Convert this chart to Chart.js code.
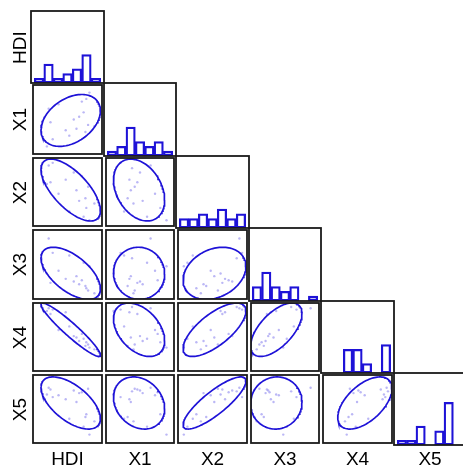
<!DOCTYPE html>
<html>
<head>
<meta charset="utf-8">
<script src="https://cdn.jsdelivr.net/npm/chart.js@4.4.1/dist/chart.umd.min.js"></script>
<style>
  html, body { margin: 0; padding: 0; background: #fff; }
  body { width: 463px; height: 465px; overflow: hidden; font-family: "Liberation Sans", Arial, sans-serif; }
  #matrix { position: relative; width: 463px; height: 465px; overflow: hidden; }
  #matrix canvas { position: absolute; }
  .row-label, .col-label {
    position: absolute; width: 72px; height: 19px; line-height: 19px;
    font-size: 19px; color: #000; text-align: center; white-space: nowrap;
  }
  .row-label { transform: rotate(-90deg); }
</style>
</head>
<body>
<div id="matrix"></div>
<script>
// Variable names (row / column labels)
const varNames = ['HDI', 'X1', 'X2', 'X3', 'X4', 'X5'];

// Observations (18 cases), one array per variable
const hdiValues = [0.36, 0.42, 0.44, 0.46, 0.485, 0.55, 0.63, 0.67, 0.72, 0.75, 0.78, 0.81, 0.83, 0.85, 0.86, 0.88, 0.895, 0.95];
const x1Values = [23, 12.5, 33.5, 26, 16.5, 36, 21.5, 18.5, 27.5, 22.3, 29, 37.5, 31.5, 20.5, 39, 24.5, 42.5, 23.8];
const x2Values = [62, 44, 65, 46, 68, 33, 49, 13, 57, 37, 25, 53, 7, 28, 17, 41, 3, 22];
const x3Values = [16.8, 10, 25.6, 5.8, 19.2, 11.2, 7.6, 18, 6.4, 8.8, 5.2, 7, 14.8, 4.4, 3.4, 2.4, 13.2, 1.2];
const x4Values = [69, 64.5, 67.5, 61, 66, 43, 63, 47, 36, 34.5, 30.5, 38.5, 33, 25, 29, 26.5, 23, 21];
const x5Values = [85, 81.5, 89, 87, 78.5, 80.5, 76, 54, 86, 73, 83, 84, 45, 56, 59, 88, 36, 51];

// Histogram bins per variable (7 bins each)
const binStarts = [0.3, 10, 0, 0, 0, 30];
const binWidths = [0.1, 5, 10, 4, 10, 10];
const binCount = 7;

const allValues = [hdiValues, x1Values, x2Values, x3Values, x4Values, x5Values];

// Layout of the grid
const gridLeft = 31;
const gridTop = 11;
const cellW = 72.5;
const cellH = 72.4;
const pad = 2;
const ellipseScale = 1.75;
const histMax = 15.2;

const lineBlue = 'rgb(30, 18, 215)';
const dotBlue = 'rgba(150, 145, 240, 0.65)';

// Cell border drawn around the plot area
const cellFrame = {
  id: 'cellFrame',
  afterDraw(chart) {
    const { ctx, chartArea: a } = chart;
    ctx.save();
    ctx.strokeStyle = '#1a1a1a';
    ctx.lineWidth = 1.8;
    ctx.strokeRect(a.left, a.top, a.right - a.left, a.bottom - a.top);
    ctx.restore();
  }
};

function mean(arr) {
  return arr.reduce((s, v) => s + v, 0) / arr.length;
}

function stdDev(arr, m) {
  const ss = arr.reduce((s, v) => s + (v - m) * (v - m), 0);
  return Math.sqrt(ss / (arr.length - 1));
}

// Axis range: bin range plus 5% on each side
function axisRange(v) {
  const span = binWidths[v] * binCount;
  return { min: binStarts[v] - span * 0.05, max: binStarts[v] + span * 1.05 };
}

// Counts per bin
function histogram(v) {
  const counts = Array(binCount).fill(0);
  allValues[v].forEach(val => {
    let idx = Math.floor((val - binStarts[v]) / binWidths[v] + 1e-9);
    idx = Math.max(0, Math.min(binCount - 1, idx));
    counts[idx]++;
  });
  return counts.map((c, k) => ({ x: binStarts[v] + binWidths[v] * (k + 0.5), y: c }));
}

// Ellipse from the mean and covariance of two variables
function ellipsePoints(xs, ys) {
  const mx = mean(xs);
  const my = mean(ys);
  const sx = stdDev(xs, mx);
  const sy = stdDev(ys, my);
  let cov = 0;
  for (let k = 0; k < xs.length; k++) {
    cov += (xs[k] - mx) * (ys[k] - my);
  }
  cov /= xs.length - 1;
  const r = cov / (sx * sy);
  const pts = [];
  for (let k = 0; k <= 120; k++) {
    const t = 2 * Math.PI * k / 120;
    pts.push({
      x: mx + ellipseScale * sx * Math.cos(t),
      y: my + ellipseScale * sy * (r * Math.cos(t) + Math.sqrt(1 - r * r) * Math.sin(t))
    });
  }
  return pts;
}

function edgeX(j) { return Math.round(gridLeft + j * cellW); }
function edgeY(i) { return Math.round(gridTop + i * cellH); }

function makeCanvas(i, j) {
  const canvas = document.createElement('canvas');
  const left = edgeX(j) - pad;
  const top = edgeY(i) - pad;
  canvas.width = edgeX(j + 1) - edgeX(j) + 2 * pad;
  canvas.height = edgeY(i + 1) - edgeY(i) + 2 * pad;
  canvas.style.left = left + 'px';
  canvas.style.top = top + 'px';
  canvas.style.width = canvas.width + 'px';
  canvas.style.height = canvas.height + 'px';
  document.getElementById('matrix').appendChild(canvas);
  return canvas.getContext('2d');
}

function baseOptions(xRange, yRange) {
  return {
    responsive: false,
    animation: false,
    devicePixelRatio: 1,
    layout: { padding: pad },
    plugins: { legend: { display: false }, tooltip: { enabled: false } },
    scales: {
      x: {
        type: 'linear', display: false, offset: false, bounds: 'data', grace: 0,
        grid: { offset: false }, min: xRange.min, max: xRange.max
      },
      y: { type: 'linear', display: false, min: yRange.min, max: yRange.max }
    }
  };
}

// Diagonal histogram
function createHistogram(v) {
  const ctx = makeCanvas(v, v);
  // one bin is 1/7.7 of the plot width (7 bins + 5% padding each side)
  const binPx = (ctx.canvas.width - 2 * pad) / (binCount * 1.1);
  new Chart(ctx, {
    type: 'bar',
    data: {
      datasets: [{
        data: histogram(v),
        backgroundColor: 'rgba(255, 255, 255, 0)',
        borderColor: lineBlue,
        borderWidth: 1.6,
        borderSkipped: false,
        barThickness: binPx
      }]
    },
    options: baseOptions(axisRange(v), { min: 0, max: histMax }),
    plugins: [cellFrame]
  });
}

// Lower-triangle scatter with ellipse
function createScatter(row, col) {
  const xs = allValues[col];
  const ys = allValues[row];
  const points = xs.map((x, k) => ({ x: x, y: ys[k] }));
  const ctx = makeCanvas(row, col);
  new Chart(ctx, {
    type: 'scatter',
    data: {
      datasets: [
        {
          data: ellipsePoints(xs, ys),
          showLine: true,
          borderColor: lineBlue,
          borderWidth: 1.7,
          pointRadius: 0,
          fill: false,
          tension: 0
        },
        {
          data: points,
          pointRadius: 1.2,
          pointBorderWidth: 0,
          pointBackgroundColor: dotBlue
        }
      ]
    },
    options: baseOptions(axisRange(col), axisRange(row)),
    plugins: [cellFrame]
  });
}

// Text labels on the left and bottom
function addLabels() {
  const matrix = document.getElementById('matrix');
  varNames.forEach((name, i) => {
    const rowLabel = document.createElement('div');
    rowLabel.className = 'row-label';
    rowLabel.textContent = name;
    const cy = (edgeY(i) + edgeY(i + 1)) / 2;
    rowLabel.style.left = (18.5 - 36) + 'px';
    rowLabel.style.top = (cy - 9.5) + 'px';
    matrix.appendChild(rowLabel);

    const colLabel = document.createElement('div');
    colLabel.className = 'col-label';
    colLabel.textContent = name;
    const cx = (edgeX(i) + edgeX(i + 1)) / 2;
    colLabel.style.left = (cx - 36) + 'px';
    colLabel.style.top = '448.5px';
    matrix.appendChild(colLabel);
  });
}

document.addEventListener('DOMContentLoaded', function() {
  for (let i = 0; i < varNames.length; i++) {
    for (let j = 0; j <= i; j++) {
      if (i === j) {
        createHistogram(i);
      } else {
        createScatter(i, j);
      }
    }
  }
  addLabels();
});
</script>
</body>
</html>
